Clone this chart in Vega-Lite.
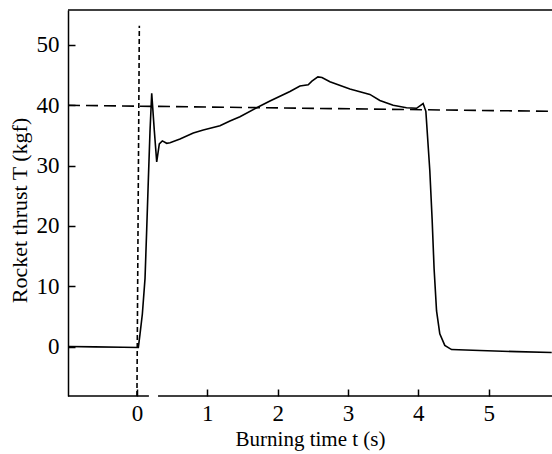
{
  "$schema": "https://vega.github.io/schema/vega-lite/v6.json",
  "autosize": "none",
  "width": 484,
  "height": 386,
  "padding": {"left": 68, "top": 10, "right": 0, "bottom": 58},
  "background": "white",
  "config": {
    "view": {"stroke": null}
  },
  "datasets": {
    "thrust": [
      {"t": -0.98, "T": 0.0},
      {"t": -0.6, "T": -0.05},
      {"t": -0.2, "T": -0.12},
      {"t": 0.02, "T": -0.15},
      {"t": 0.044, "T": 2.1},
      {"t": 0.077, "T": 5.4},
      {"t": 0.115, "T": 11.3},
      {"t": 0.139, "T": 19.5},
      {"t": 0.162, "T": 27.6},
      {"t": 0.186, "T": 35.8},
      {"t": 0.21, "T": 42.0},
      {"t": 0.247, "T": 35.8},
      {"t": 0.281, "T": 30.6},
      {"t": 0.318, "T": 33.6},
      {"t": 0.361, "T": 34.1},
      {"t": 0.423, "T": 33.7},
      {"t": 0.47, "T": 33.8},
      {"t": 0.612, "T": 34.4},
      {"t": 0.801, "T": 35.4},
      {"t": 0.943, "T": 35.9},
      {"t": 1.18, "T": 36.6},
      {"t": 1.322, "T": 37.4},
      {"t": 1.464, "T": 38.1},
      {"t": 1.702, "T": 39.6},
      {"t": 1.891, "T": 40.7},
      {"t": 2.175, "T": 42.3},
      {"t": 2.317, "T": 43.2},
      {"t": 2.435, "T": 43.4},
      {"t": 2.487, "T": 44.0},
      {"t": 2.572, "T": 44.7},
      {"t": 2.63, "T": 44.6},
      {"t": 2.743, "T": 43.9},
      {"t": 3.027, "T": 42.7},
      {"t": 3.311, "T": 41.8},
      {"t": 3.453, "T": 40.8},
      {"t": 3.642, "T": 40.0},
      {"t": 3.832, "T": 39.6},
      {"t": 3.974, "T": 39.5},
      {"t": 4.068, "T": 40.3},
      {"t": 4.107, "T": 39.0},
      {"t": 4.163, "T": 29.2},
      {"t": 4.196, "T": 21.1},
      {"t": 4.224, "T": 12.9},
      {"t": 4.259, "T": 5.9},
      {"t": 4.305, "T": 2.1},
      {"t": 4.376, "T": 0.2},
      {"t": 4.472, "T": -0.5},
      {"t": 4.874, "T": -0.65},
      {"t": 5.4, "T": -0.85},
      {"t": 5.896, "T": -1.0}
    ],
    "vline": [
      {"t": 0.034, "T": 53.2},
      {"t": 0.0, "T": -8.2}
    ],
    "hline": [
      {"t": -0.98, "T": 40.0},
      {"t": 5.9, "T": 39.0}
    ],
    "frame": [
      {"a": -0.98, "b": 0.17, "c": -8.2},
      {"a": 0.3, "b": 5.9, "c": -8.2},
      {"a": -0.98, "b": 5.9, "c": 55.8}
    ]
  },
  "layer": [
    {
      "data": {"name": "thrust"},
      "mark": {"type": "line", "color": "black", "strokeWidth": 1.6},
      "encoding": {
        "x": {
          "field": "t",
          "type": "quantitative",
          "scale": {"domain": [-0.98, 5.9], "nice": false, "zero": false},
          "axis": {
            "values": [0, 1, 2, 3, 4, 5],
            "format": "d",
            "domain": false,
            "grid": false,
            "ticks": true,
            "tickSize": -7,
            "tickColor": "black",
            "tickWidth": 1.5,
            "labelFont": "Liberation Serif",
            "labelFontSize": 23,
            "labelColor": "black",
            "labelPadding": 13,
            "labelFlush": false,
            "title": "Burning time t (s)",
            "titleFont": "Liberation Serif",
            "titleFontSize": 21,
            "titleFontWeight": "normal",
            "titleColor": "black",
            "titlePadding": 3
          }
        },
        "y": {
          "field": "T",
          "type": "quantitative",
          "scale": {"domain": [-8.2, 55.8], "nice": false, "zero": false},
          "axis": {
            "values": [0, 10, 20, 30, 40, 50],
            "format": "d",
            "grid": false,
            "domain": true,
            "domainColor": "black",
            "domainWidth": 1.5,
            "ticks": true,
            "tickSize": -7,
            "tickColor": "black",
            "tickWidth": 1.5,
            "labelFont": "Liberation Serif",
            "labelFontSize": 23,
            "labelColor": "black",
            "labelPadding": 16,
            "labelFlush": false,
            "title": "Rocket thrust T (kgf)",
            "titleFont": "Liberation Serif",
            "titleFontSize": 22,
            "titleFontWeight": "normal",
            "titleColor": "black",
            "titlePadding": 5,
            "titleY": 200
          }
        }
      }
    },
    {
      "data": {"name": "hline"},
      "mark": {"type": "line", "color": "black", "strokeWidth": 1.6, "strokeDash": [12, 6]},
      "encoding": {
        "x": {"field": "t", "type": "quantitative"},
        "y": {"field": "T", "type": "quantitative"}
      }
    },
    {
      "data": {"name": "vline"},
      "mark": {"type": "line", "color": "black", "strokeWidth": 1.6, "strokeDash": [5, 3]},
      "encoding": {
        "x": {"field": "t", "type": "quantitative"},
        "y": {"field": "T", "type": "quantitative"}
      }
    },
    {
      "data": {"name": "frame"},
      "mark": {"type": "rule", "color": "black", "strokeWidth": 1.5},
      "encoding": {
        "x": {"field": "a", "type": "quantitative"},
        "x2": {"field": "b"},
        "y": {"field": "c", "type": "quantitative"}
      }
    }
  ]
}
